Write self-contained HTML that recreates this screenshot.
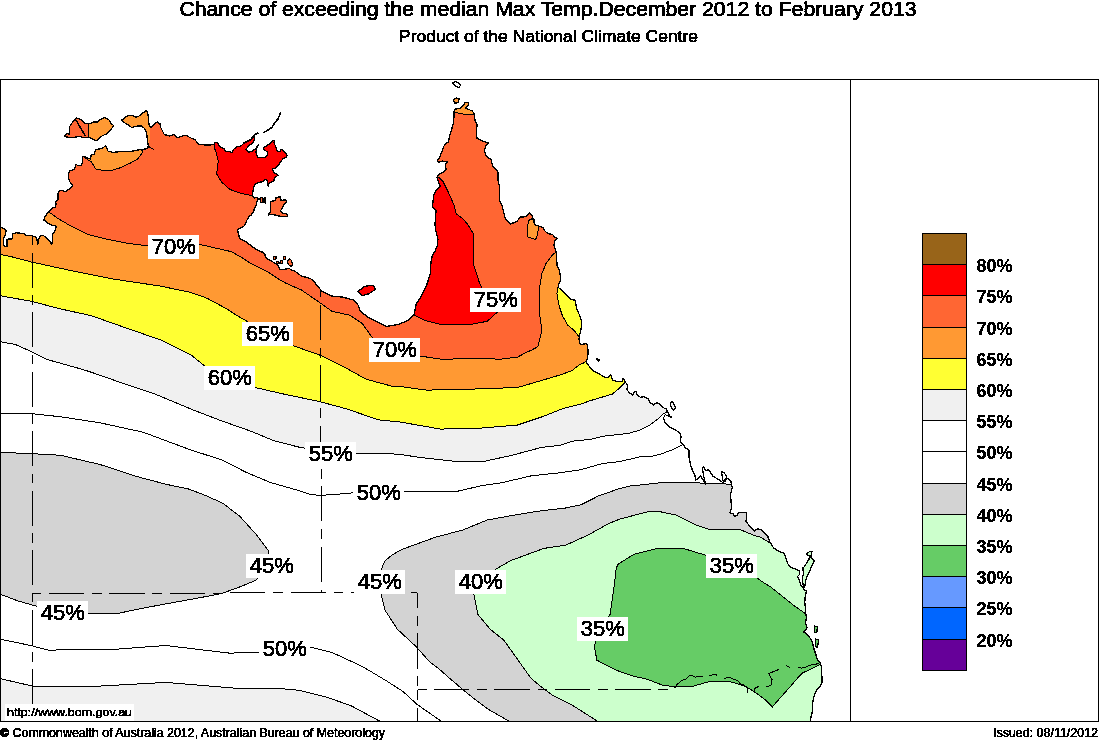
<!DOCTYPE html>
<html><head><meta charset="utf-8"><title>Chance of exceeding the median Max Temp</title>
<style>
html,body{margin:0;padding:0;background:#fff;}
body{width:1099px;height:740px;overflow:hidden;position:relative;font-family:"Liberation Sans",Arial,Helvetica,sans-serif;}
svg{position:absolute;left:0;top:0;}
svg text{font-family:"Liberation Sans",Arial,Helvetica,sans-serif;}
</style></head><body>
<svg width="1099" height="740" viewBox="0 0 1099 740" shape-rendering="crispEdges">
<defs><clipPath id="land">
<polygon points="0.0,227.0 3.5,228.4 6.1,231.0 5.3,234.5 3.5,238.9 3.5,244.2 4.4,246.8 7.0,246.8 7.0,239.8 8.8,238.9 12.3,238.9 12.7,233.6 16.7,232.8 23.7,233.6 25.5,235.4 31.6,235.8 35.1,236.7 36.9,238.9 37.8,244.2 38.6,239.8 40.4,235.8 43.0,235.4 45.7,237.1 49.2,240.7 51.8,244.2 52.7,238.9 52.7,233.6 54.4,231.9 56.2,226.6 55.3,225.7 52.7,225.3 49.2,224.0 45.7,221.3 43.9,220.5 44.8,217.0 46.5,214.3 49.2,211.7 51.8,208.2 55.3,207.3 56.2,203.8 55.3,202.0 57.9,199.4 57.9,195.0 58.4,191.5 60.8,190.3 65.7,191.5 69.3,189.0 73.0,186.0 70.5,183.0 68.7,179.3 68.5,173.1 69.5,171.2 74.2,169.3 76.1,164.6 78.0,165.5 80.8,165.5 82.7,161.8 82.7,157.0 84.6,156.6 87.4,158.0 90.3,158.9 91.2,155.1 94.1,154.2 96.0,149.5 99.7,149.0 103.5,147.6 105.4,145.7 106.8,148.5 108.2,151.4 113.0,152.3 118.7,151.8 124.3,151.4 129.1,151.8 135.7,150.4 140.4,149.5 142.3,150.4 143.3,149.5 147.0,148.5 148.3,146.0 147.5,140.0 146.5,133.0 144.5,128.5 141.4,125.8 135.7,126.3 131.9,127.7 128.1,124.9 123.4,122.0 121.5,120.1 124.3,118.2 128.1,115.4 132.8,115.4 135.7,117.3 138.5,116.4 143.3,112.6 146.6,110.2 148.0,114.5 148.9,123.9 150.8,127.7 154.6,123.9 157.4,122.0 160.0,123.9 160.9,127.8 164.2,134.4 169.1,136.0 174.0,134.4 177.3,137.7 185.5,135.2 190.4,137.7 195.3,140.1 198.6,144.2 205.2,145.0 210.0,145.1 214.1,144.3 214.9,142.7 217.4,142.7 220.6,147.6 223.9,148.4 225.6,151.7 229.7,151.7 232.1,152.9 233.8,149.2 237.0,146.8 241.1,146.0 244.4,142.7 249.3,140.2 252.6,137.8 254.2,136.1 254.5,138.5 253.4,142.7 249.3,145.1 246.0,149.2 248.5,152.5 252.6,150.9 255.9,148.4 258.3,145.1 256.7,147.6 255.9,152.5 257.5,157.4 260.8,157.4 265.7,157.4 267.3,155.0 267.3,151.7 264.1,150.0 263.2,148.4 267.3,145.1 271.4,142.7 272.2,141.0 274.7,140.2 273.9,142.7 275.5,146.0 277.2,150.9 279.6,151.7 281.3,149.2 284.5,151.7 287.0,155.0 286.2,157.4 283.7,158.2 281.3,160.7 279.6,163.1 278.8,165.0 275.4,168.1 272.2,168.9 273.8,172.2 277.9,175.4 274.6,177.8 273.8,181.1 268.9,183.5 268.1,186.0 267.3,180.3 265.7,179.5 261.6,181.9 257.6,182.7 254.3,185.1 253.5,188.4 252.7,192.4 252.3,195.7 254.3,198.1 257.6,197.3 258.4,198.9 256.8,202.2 256.0,205.4 254.3,208.7 253.5,211.9 251.1,215.1 248.7,216.8 247.0,220.0 244.6,225.7 237.5,229.8 238.5,233.8 239.5,238.2 246.6,242.3 254.7,248.4 260.0,251.5 263.3,252.3 264.9,254.2 265.5,257.5 268.2,259.4 272.0,261.3 275.3,263.5 278.0,265.1 279.1,267.3 279.7,269.5 283.5,269.5 286.7,268.9 289.5,268.7 291.7,270.0 294.9,271.1 298.2,273.8 301.5,276.0 305.3,277.1 309.1,278.2 312.4,279.6 316.6,284.9 321.7,291.0 331.8,296.0 341.9,297.0 354.1,300.1 358.1,305.2 360.2,311.2 368.3,317.3 378.4,322.4 386.5,326.4 398.7,324.4 408.1,320.3 414.2,314.2 416.2,304.1 420.3,298.0 426.4,285.8 430.4,273.7 430.7,265.0 431.3,260.1 432.5,255.2 435.5,250.3 437.3,245.5 437.9,239.4 436.1,232.1 434.9,224.8 435.5,218.7 436.1,210.2 432.5,206.6 433.7,195.7 435.5,190.8 440.4,186.5 438.6,182.3 437.0,177.0 438.5,174.6 443.9,171.9 446.0,169.2 445.3,163.8 447.3,161.8 442.6,161.1 438.5,162.4 437.2,161.1 439.9,157.0 441.9,151.6 443.9,146.2 445.9,143.5 448.6,142.2 449.3,136.8 451.4,130.0 453.4,123.2 454.1,115.1 454.1,111.1 455.4,109.1 460.1,108.4 462.8,105.7 465.5,102.3 468.2,103.0 468.2,105.7 465.5,108.4 468.2,109.1 472.3,111.1 474.3,113.8 475.0,120.5 477.0,124.6 476.4,134.1 477.0,138.1 481.8,140.8 488.5,142.8 485.8,146.2 484.5,150.3 485.8,155.7 491.2,159.7 492.6,166.5 495.3,169.2 498.0,171.9 498.0,180.0 499.4,186.4 499.4,200.6 502.4,206.7 505.4,218.8 510.5,223.9 515.0,222.3 517.2,221.2 520.4,216.6 522.0,217.2 525.8,216.6 528.5,214.2 529.6,213.1 532.3,215.8 532.8,218.5 534.5,219.6 533.9,222.3 535.5,225.0 538.8,226.1 543.1,227.7 545.3,231.5 548.5,233.6 552.8,234.7 554.5,237.4 557.7,238.5 555.0,240.7 553.9,245.0 556.1,251.4 557.1,265.6 559.1,270.0 560.1,274.3 560.7,280.3 558.5,285.1 558.0,287.3 562.3,290.5 566.6,294.9 571.0,299.2 575.3,300.3 576.4,307.8 579.6,315.4 581.8,321.9 581.2,328.4 579.6,334.9 579.0,339.2 579.6,343.5 581.8,344.6 586.1,343.5 587.7,345.7 588.1,354.1 587.0,359.5 586.5,362.7 589.7,367.0 594.1,371.4 599.5,374.1 605.9,377.8 609.2,376.8 610.8,374.6 612.4,380.0 616.8,381.6 622.2,381.6 623.2,378.4 625.4,382.2 627.6,385.4 627.0,389.7 629.7,393.0 633.0,395.1 634.1,391.9 636.2,391.4 637.3,395.1 640.5,397.3 643.8,396.8 648.1,398.9 650.3,402.7 653.5,404.9 656.8,402.7 660.0,404.3 663.2,407.6 666.5,409.2 668.1,412.4 669.7,415.7 671.4,417.3 667.6,415.8 665.2,414.6 663.4,418.2 665.2,423.1 669.5,426.8 674.3,429.2 679.8,432.8 681.0,436.5 680.4,441.4 683.5,445.0 685.3,448.1 688.9,449.9 688.9,457.2 690.8,465.7 692.6,470.6 695.0,475.4 695.6,480.3 698.7,477.9 700.5,476.0 703.5,480.3 705.4,483.9 703.5,475.4 702.3,468.1 703.5,466.9 706.0,470.6 708.4,469.3 713.3,476.6 718.1,479.1 723.0,482.7 726.0,478.5 729.1,479.1 730.9,481.5 731.5,485.2 732.3,487.3 730.5,494.6 731.1,501.9 731.7,508.0 729.9,512.8 733.5,514.1 734.7,516.5 737.2,515.3 738.4,512.2 743.2,512.8 746.3,512.8 746.9,518.9 745.7,520.8 748.7,525.0 751.8,528.7 754.2,531.1 757.8,528.7 761.5,529.9 765.1,533.5 767.6,536.0 770.0,542.0 773.7,548.1 778.5,551.1 784.6,553.5 785.8,558.4 788.2,564.5 790.7,566.9 794.3,568.7 799.2,570.5 799.8,574.2 797.4,576.6 799.2,580.3 801.0,585.1 802.8,587.6 804.1,590.0 806.5,591.2 805.3,596.1 804.7,602.2 805.3,607.0 805.9,614.3 806.5,618.0 805.3,622.9 807.1,627.7 805.3,630.2 803.8,632.0 808.2,635.3 812.0,641.0 813.9,648.7 815.8,654.4 817.3,659.6 820.4,662.7 821.2,666.6 821.2,670.5 822.0,676.7 822.0,682.8 819.7,686.7 816.6,689.8 815.0,693.7 813.5,698.3 812.7,703.0 812.7,709.1 812.3,712.0 811.0,717.0 810.1,721.0 810.1,722.0 0.0,722.0"/>
<polygon points="64.7,136.2 67.1,133.4 69.5,134.3 69.5,126.8 72.3,122.5 76.1,117.8 81.8,120.1 84.6,123.0 89.3,123.9 93.1,122.0 97.8,122.0 100.7,119.2 104.5,117.3 109.2,120.1 111.1,123.9 113.5,125.3 111.1,129.6 107.3,133.4 101.6,136.2 96.0,141.0 91.2,138.1 87.4,137.2 82.7,137.6 78.9,136.2 75.1,137.2 70.4,137.2 67.6,137.2"/>
<polygon points="270.6,201.4 275.4,200.6 276.2,197.3 280.3,196.9 281.1,200.6 285.2,199.7 286.8,201.4 283.5,205.4 281.9,208.7 280.3,211.1 282.7,213.5 286.8,213.5 287.6,216.8 281.9,216.8 275.4,215.1 270.6,214.3 268.1,215.1 268.9,213.5 270.6,211.9"/>
<polygon points="358.0,291.5 364.5,286.4 373.2,285.1 375.4,289.4 368.9,293.7 362.4,295.8"/>
<polygon points="453.6,99.5 456.5,97.8 459.4,99.0 458.0,102.5 454.5,103.4"/>
<polygon points="806.5,554.1 810.1,551.1 812.0,551.7 810.8,557.2 814.4,560.8 811.4,566.9 808.9,573.0 806.5,577.8 805.3,582.7 804.7,587.6 803.5,587.6 802.2,579.1 803.5,573.0 802.8,568.1 804.7,566.3 806.5,563.2 808.9,559.6 809.5,556.0"/>
<polygon points="814.4,626.0 817.4,626.5 816.8,632.6 814.8,632.0"/>
<polygon points="815.8,639.0 818.7,640.0 817.5,647.7 815.5,646.0"/>
<polygon points="260.0,198.0 262.5,197.5 263.0,202.5 260.5,202.8"/>
<polygon points="721.5,471.5 724.0,472.5 727.0,477.0 725.0,482.0 723.0,481.0"/>
<polygon points="670.3,402.2 673.0,402.0 675.7,408.0 673.5,410.3 671.0,407.0"/>
<polygon points="596.5,358.6 599.3,359.5 598.5,361.1"/>
<polygon points="273.5,256.6 276.2,256.4 275.8,259.5 273.3,259.8"/>
<polygon points="276.6,261.6 278.8,261.5 279.0,263.8 276.8,264.0"/>
<polygon points="280.3,260.5 282.7,260.2 282.5,263.3 280.4,263.5"/>
<polygon points="283.2,256.6 285.5,256.4 285.3,259.5 283.4,259.7"/>
<polygon points="289.5,258.6 291.5,260.5 292.6,264.5 291.6,266.6 289.0,265.0 287.0,262.0"/>
<polygon points="264.0,198.0 265.7,198.0 265.5,203.0 264.2,202.5"/>
</clipPath>
<filter id="bin" x="-5%" y="-30%" width="110%" height="160%"><feComponentTransfer><feFuncA type="discrete" tableValues="0 1 1"/></feComponentTransfer></filter>
</defs>
<rect x="0" y="0" width="1099" height="740" fill="#fff"/>
<g clip-path="url(#land)">
<rect x="0" y="79" width="850" height="643" fill="#fff"/>
<polygon points="0.0,341.6 15.3,344.5 32.5,352.1 47.8,359.7 82.2,369.3 91.2,372.2 131.8,386.4 156.1,394.5 192.6,409.7 219.2,420.0 251.4,431.4 274.1,440.8 300.0,447.4 305.4,448.2 330.0,451.0 356.1,453.3 382.5,453.3 400.0,454.4 420.3,457.5 456.8,461.5 485.2,461.1 511.5,455.4 541.9,447.3 560.0,445.4 572.3,441.2 590.4,439.4 602.8,436.2 628.9,433.3 640.0,430.0 650.0,424.9 657.3,419.5 662.2,414.6 668.0,411.2 700.0,400.0 700.0,60.0 0.0,60.0" fill="#f0f0f0"/>
<polygon points="0.0,295.7 32.5,301.5 57.3,308.2 91.7,315.8 124.2,327.3 162.4,340.6 191.1,355.0 204.8,366.0 230.0,378.0 254.7,387.4 281.1,393.5 319.6,401.6 346.0,408.7 378.4,419.8 400.0,422.0 440.6,429.1 481.1,428.1 517.6,425.0 541.9,416.9 562.2,408.8 580.0,404.3 590.8,400.5 601.6,397.3 612.4,394.1 618.9,388.6 625.5,382.0 640.0,370.0 640.0,60.0 0.0,60.0" fill="#ffff33"/>
<polygon points="0.0,254.4 10.5,256.5 31.8,262.1 68.2,270.0 113.7,279.1 159.2,285.9 190.0,292.2 196.8,294.5 206.9,298.2 217.0,303.6 227.2,309.1 237.3,315.8 246.8,321.2 270.0,334.0 293.3,345.7 321.7,355.8 329.8,360.0 346.0,368.1 366.3,379.3 392.6,386.4 400.0,386.5 426.4,390.1 460.8,389.5 517.6,387.5 541.9,380.4 562.2,374.3 572.2,370.4 580.0,364.3 584.3,362.7 587.0,360.0 600.0,350.0 600.0,60.0 0.0,60.0" fill="#ff9933"/>
<polygon points="49.2,212.2 58.0,218.5 68.7,224.8 87.8,234.4 106.9,239.2 126.0,243.0 147.0,245.9 198.7,244.2 231.1,251.6 241.0,257.0 250.0,263.0 260.0,268.1 265.5,270.6 270.9,273.8 276.4,277.7 285.2,282.9 301.4,290.0 317.6,301.1 331.8,311.2 350.0,315.3 362.2,323.4 372.3,337.6 395.0,352.0 420.3,356.1 440.6,359.1 481.1,358.8 501.4,359.1 517.6,357.1 525.7,352.7 531.8,350.0 537.9,346.7 539.9,338.5 541.9,330.4 539.9,316.2 539.9,285.8 541.9,273.7 546.0,263.5 552.1,255.4 556.0,252.0 570.0,240.0 570.0,60.0 49.2,60.0" fill="#ff6633"/>
<polygon points="214.1,144.3 214.9,149.2 216.6,154.1 218.2,160.7 217.8,165.0 216.6,173.7 221.5,181.9 229.7,189.3 238.1,192.4 244.6,194.1 252.3,195.7 262.0,193.0 300.0,190.0 300.0,90.0 214.1,90.0" fill="#ff0000"/>
<polygon points="437.3,176.2 442.8,181.1 447.7,190.8 453.7,204.2 456.2,213.9 462.2,218.1 467.1,223.6 473.2,233.3 473.5,250.0 474.0,265.6 479.1,281.8 482.1,287.9 490.0,300.0 497.3,312.2 487.2,321.3 471.0,324.4 440.6,324.4 424.3,320.3 414.2,315.2 405.0,318.0 405.0,175.0" fill="#ff0000"/>
<polygon points="358.0,291.5 364.5,286.4 373.2,285.1 375.4,289.4 368.9,293.7 362.4,295.8" fill="#ff0000"/>
<polygon points="88.4,105.0 88.4,145.0 125.0,145.0 125.0,105.0" fill="#ff9933"/>
<polygon points="83.0,150.0 83.2,156.6 86.5,158.9 91.2,161.8 96.0,169.3 102.6,170.3 112.0,170.3 121.5,167.4 131.0,162.7 137.6,158.9 141.4,154.2 143.3,149.5 148.9,147.6 149.5,140.0 150.2,128.0 149.5,124.0 148.5,114.0 148.0,100.0 115.0,100.0 115.0,140.0 88.0,143.0" fill="#ff9933"/>
<polygon points="448.0,90.0 482.0,90.0 482.0,114.5 473.0,114.5 465.5,114.5 454.7,112.4 448.0,112.0" fill="#ff9933"/>
<polygon points="528.5,220.7 531.2,218.8 533.4,220.1 533.6,222.8 535.5,225.0 538.2,226.1 538.5,228.2 537.7,233.1 536.6,238.0 535.0,239.3 531.2,238.0 528.0,236.9 527.4,229.3 528.2,222.8" fill="#ff9933"/>
<polygon points="558.0,287.3 556.9,293.8 559.1,305.7 562.3,315.4 567.7,325.1 574.2,330.5 579.5,337.5 600.0,337.5 600.0,285.0" fill="#ffff33"/>
<polygon points="0.0,678.6 33.1,686.2 89.2,686.7 165.6,682.4 237.0,688.3 280.0,688.5 298.9,690.3 327.3,697.4 351.0,705.7 379.4,721.0 381.0,722.0 0.0,722.0" fill="#f0f0f0"/>
<polygon points="0.0,452.3 32.4,453.7 60.8,455.3 100.0,464.5 137.8,476.8 166.2,484.3 188.9,489.1 206.0,495.7 223.0,503.3 240.0,516.5 257.0,535.4 268.4,550.6 270.0,565.0 257.7,578.2 255.2,580.6 237.2,588.0 220.8,593.7 194.6,598.7 171.7,602.8 145.5,607.7 117.7,613.4 88.2,613.4 62.0,612.0 36.5,606.2 17.6,600.8 0.0,594.1" fill="#d3d3d3"/>
<polygon points="733.0,485.2 725.4,483.9 706.0,483.9 693.8,482.1 661.0,482.7 650.0,483.9 630.2,486.0 620.0,488.4 598.4,496.0 580.9,504.8 565.6,508.0 537.2,511.3 511.0,515.7 487.0,520.1 463.0,529.9 434.6,537.5 401.8,549.5 392.0,555.0 385.0,561.0 382.2,567.0 380.5,580.0 380.9,593.7 385.0,610.1 397.3,629.2 416.4,646.9 430.0,662.2 439.7,669.5 449.5,678.2 462.1,688.9 472.8,697.7 488.4,709.3 507.8,720.5 510.0,722.0 900.0,722.0 900.0,485.0" fill="#d3d3d3"/>
<polygon points="771.0,543.5 766.4,540.8 760.3,537.2 754.2,535.4 749.3,533.5 740.8,529.9 725.0,529.9 710.5,530.0 694.4,524.3 676.1,515.1 660.0,511.7 650.2,511.2 620.0,519.0 609.3,523.3 587.5,535.3 565.6,545.2 543.8,548.4 511.0,560.5 495.7,569.2 485.0,582.0 473.7,593.7 477.8,614.2 490.1,629.2 503.8,640.1 517.4,659.2 531.0,678.3 540.0,685.8 553.2,695.7 573.0,705.6 596.1,720.4 598.0,722.0 900.0,722.0 900.0,543.5" fill="#ccffcc"/>
<polygon points="806.5,614.3 794.3,605.8 782.2,596.1 770.0,586.4 763.6,582.6 756.4,577.5 730.0,566.0 705.9,555.3 682.3,548.1 658.2,548.1 634.2,554.1 618.2,564.1 616.2,568.1 614.2,586.1 610.2,614.1 600.0,630.0 594.2,646.2 596.9,660.2 615.9,670.1 632.4,675.9 647.2,679.2 662.1,685.0 665.0,685.2 670.1,686.3 675.9,686.3 692.7,686.3 697.8,684.8 702.8,683.4 708.7,681.9 715.9,681.2 724.7,681.2 730.5,681.9 736.3,683.4 740.7,684.8 746.2,686.7 752.4,690.6 759.3,695.2 767.1,701.4 772.5,706.8 777.1,701.4 783.3,694.4 789.5,687.5 794.1,682.1 798.8,676.7 802.6,672.8 808.1,670.5 814.2,667.4 820.4,664.3 822.0,664.0 880.0,665.0 880.0,614.3" fill="#66cc66"/>
</g>
<g clip-path="url(#land)" fill="none" stroke="#000" stroke-width="1">
<polyline points="49.2,212.2 58.0,218.5 68.7,224.8 87.8,234.4 106.9,239.2 126.0,243.0 147.0,245.9 198.7,244.2 231.1,251.6 241.0,257.0 250.0,263.0 260.0,268.1 265.5,270.6 270.9,273.8 276.4,277.7 285.2,282.9 301.4,290.0 317.6,301.1 331.8,311.2 350.0,315.3 362.2,323.4 372.3,337.6 395.0,352.0 420.3,356.1 440.6,359.1 481.1,358.8 501.4,359.1 517.6,357.1 525.7,352.7 531.8,350.0 537.9,346.7 539.9,338.5 541.9,330.4 539.9,316.2 539.9,285.8 541.9,273.7 546.0,263.5 552.1,255.4 556.0,252.0"/>
<polyline points="0.0,254.4 10.5,256.5 31.8,262.1 68.2,270.0 113.7,279.1 159.2,285.9 190.0,292.2 196.8,294.5 206.9,298.2 217.0,303.6 227.2,309.1 237.3,315.8 246.8,321.2 270.0,334.0 293.3,345.7 321.7,355.8 329.8,360.0 346.0,368.1 366.3,379.3 392.6,386.4 400.0,386.5 426.4,390.1 460.8,389.5 517.6,387.5 541.9,380.4 562.2,374.3 572.2,370.4 580.0,364.3 584.3,362.7 587.0,360.0"/>
<polyline points="0.0,295.7 32.5,301.5 57.3,308.2 91.7,315.8 124.2,327.3 162.4,340.6 191.1,355.0 204.8,366.0 230.0,378.0 254.7,387.4 281.1,393.5 319.6,401.6 346.0,408.7 378.4,419.8 400.0,422.0 440.6,429.1 481.1,428.1 517.6,425.0 541.9,416.9 562.2,408.8 580.0,404.3 590.8,400.5 601.6,397.3 612.4,394.1 618.9,388.6 625.5,382.0"/>
<polyline points="0.0,341.6 15.3,344.5 32.5,352.1 47.8,359.7 82.2,369.3 91.2,372.2 131.8,386.4 156.1,394.5 192.6,409.7 219.2,420.0 251.4,431.4 274.1,440.8 300.0,447.4 305.4,448.2 330.0,451.0 356.1,453.3 382.5,453.3 400.0,454.4 420.3,457.5 456.8,461.5 485.2,461.1 511.5,455.4 541.9,447.3 560.0,445.4 572.3,441.2 590.4,439.4 602.8,436.2 628.9,433.3 640.0,430.0 650.0,424.9 657.3,419.5 662.2,414.6 668.0,411.2"/>
<polyline points="0.0,413.1 32.4,413.7 60.8,416.8 100.0,422.8 143.5,432.3 188.9,449.3 221.1,459.7 247.6,473.0 270.3,482.4 300.0,491.0 311.5,494.8 320.3,495.2 331.8,494.8 353.1,492.8 380.0,492.0 402.8,491.8 424.3,491.9 454.7,491.9 481.1,485.8 501.4,482.8 531.8,475.7 560.0,472.8 580.3,469.8 602.8,463.5 620.0,461.5 641.1,456.6 650.0,456.6 660.9,454.1 671.9,449.9 683.0,444.5"/>
<polyline points="0.0,639.1 30.6,645.5 48.4,650.1 114.7,649.3 165.6,645.5 229.3,653.1 257.3,652.6 283.0,650.0 308.4,646.6 332.1,652.5 362.8,666.7 386.5,680.9 403.0,691.5 417.2,704.5 440.9,721.0 442.0,722.0"/>
<polyline points="0.0,678.6 33.1,686.2 89.2,686.7 165.6,682.4 237.0,688.3 280.0,688.5 298.9,690.3 327.3,697.4 351.0,705.7 379.4,721.0 381.0,722.0"/>
<polyline points="733.0,485.2 725.4,483.9 706.0,483.9 693.8,482.1 661.0,482.7 650.0,483.9 630.2,486.0 620.0,488.4 598.4,496.0 580.9,504.8 565.6,508.0 537.2,511.3 511.0,515.7 487.0,520.1 463.0,529.9 434.6,537.5 401.8,549.5 392.0,555.0 385.0,561.0 382.2,567.0 380.5,580.0 380.9,593.7 385.0,610.1 397.3,629.2 416.4,646.9 430.0,662.2 439.7,669.5 449.5,678.2 462.1,688.9 472.8,697.7 488.4,709.3 507.8,720.5 510.0,722.0"/>
<polyline points="771.0,543.5 766.4,540.8 760.3,537.2 754.2,535.4 749.3,533.5 740.8,529.9 725.0,529.9 710.5,530.0 694.4,524.3 676.1,515.1 660.0,511.7 650.2,511.2 620.0,519.0 609.3,523.3 587.5,535.3 565.6,545.2 543.8,548.4 511.0,560.5 495.7,569.2 485.0,582.0 473.7,593.7 477.8,614.2 490.1,629.2 503.8,640.1 517.4,659.2 531.0,678.3 540.0,685.8 553.2,695.7 573.0,705.6 596.1,720.4 598.0,722.0"/>
<polyline points="806.5,614.3 794.3,605.8 782.2,596.1 770.0,586.4 763.6,582.6 756.4,577.5 730.0,566.0 705.9,555.3 682.3,548.1 658.2,548.1 634.2,554.1 618.2,564.1 616.2,568.1 614.2,586.1 610.2,614.1 600.0,630.0 594.2,646.2 596.9,660.2 615.9,670.1 632.4,675.9 647.2,679.2 662.1,685.0 665.0,685.2 670.1,686.3 675.9,686.3 692.7,686.3 697.8,684.8 702.8,683.4 708.7,681.9 715.9,681.2 724.7,681.2 730.5,681.9 736.3,683.4 740.7,684.8 746.2,686.7 752.4,690.6 759.3,695.2 767.1,701.4 772.5,706.8 777.1,701.4 783.3,694.4 789.5,687.5 794.1,682.1 798.8,676.7 802.6,672.8 808.1,670.5 814.2,667.4 820.4,664.3 822.0,664.0"/>
<polyline points="214.1,144.3 214.9,149.2 216.6,154.1 218.2,160.7 217.8,165.0 216.6,173.7 221.5,181.9 229.7,189.3 238.1,192.4 244.6,194.1 252.3,195.7"/>
<polyline points="437.3,176.2 442.8,181.1 447.7,190.8 453.7,204.2 456.2,213.9 462.2,218.1 467.1,223.6 473.2,233.3 473.5,250.0 474.0,265.6 479.1,281.8 482.1,287.9 490.0,300.0 497.3,312.2 487.2,321.3 471.0,324.4 440.6,324.4 424.3,320.3 414.2,315.2"/>
<polygon points="0.0,452.3 32.4,453.7 60.8,455.3 100.0,464.5 137.8,476.8 166.2,484.3 188.9,489.1 206.0,495.7 223.0,503.3 240.0,516.5 257.0,535.4 268.4,550.6 270.0,565.0 257.7,578.2 255.2,580.6 237.2,588.0 220.8,593.7 194.6,598.7 171.7,602.8 145.5,607.7 117.7,613.4 88.2,613.4 62.0,612.0 36.5,606.2 17.6,600.8 0.0,594.1"/>
<polyline points="88.4,118.0 88.4,140.0"/>
<polyline points="83.2,156.6 86.5,158.9 91.2,161.8 96.0,169.3 102.6,170.3 112.0,170.3 121.5,167.4 131.0,162.7 137.6,158.9 141.4,154.2 143.3,149.5 148.9,147.6"/>
<polyline points="148.9,146.6 153.7,149.5"/>
<polyline points="454.7,112.4 465.5,114.5 473.5,114.5"/>
<polygon points="528.5,220.7 531.2,218.8 533.4,220.1 533.6,222.8 535.5,225.0 538.2,226.1 538.5,228.2 537.7,233.1 536.6,238.0 535.0,239.3 531.2,238.0 528.0,236.9 527.4,229.3 528.2,222.8"/>
<polyline points="558.0,287.3 556.9,293.8 559.1,305.7 562.3,315.4 567.7,325.1 574.2,330.5 579.5,337.5"/>
</g>
<g fill="none" stroke="#000" stroke-width="1.3" stroke-linejoin="round">
<polyline points="0.0,227.0 3.5,228.4 6.1,231.0 5.3,234.5 3.5,238.9 3.5,244.2 4.4,246.8 7.0,246.8 7.0,239.8 8.8,238.9 12.3,238.9 12.7,233.6 16.7,232.8 23.7,233.6 25.5,235.4 31.6,235.8 35.1,236.7 36.9,238.9 37.8,244.2 38.6,239.8 40.4,235.8 43.0,235.4 45.7,237.1 49.2,240.7 51.8,244.2 52.7,238.9 52.7,233.6 54.4,231.9 56.2,226.6 55.3,225.7 52.7,225.3 49.2,224.0 45.7,221.3 43.9,220.5 44.8,217.0 46.5,214.3 49.2,211.7 51.8,208.2 55.3,207.3 56.2,203.8 55.3,202.0 57.9,199.4 57.9,195.0 58.4,191.5 60.8,190.3 65.7,191.5 69.3,189.0 73.0,186.0 70.5,183.0 68.7,179.3 68.5,173.1 69.5,171.2 74.2,169.3 76.1,164.6 78.0,165.5 80.8,165.5 82.7,161.8 82.7,157.0 84.6,156.6 87.4,158.0 90.3,158.9 91.2,155.1 94.1,154.2 96.0,149.5 99.7,149.0 103.5,147.6 105.4,145.7 106.8,148.5 108.2,151.4 113.0,152.3 118.7,151.8 124.3,151.4 129.1,151.8 135.7,150.4 140.4,149.5 142.3,150.4 143.3,149.5 147.0,148.5 148.3,146.0 147.5,140.0 146.5,133.0 144.5,128.5 141.4,125.8 135.7,126.3 131.9,127.7 128.1,124.9 123.4,122.0 121.5,120.1 124.3,118.2 128.1,115.4 132.8,115.4 135.7,117.3 138.5,116.4 143.3,112.6 146.6,110.2 148.0,114.5 148.9,123.9 150.8,127.7 154.6,123.9 157.4,122.0 160.0,123.9 160.9,127.8 164.2,134.4 169.1,136.0 174.0,134.4 177.3,137.7 185.5,135.2 190.4,137.7 195.3,140.1 198.6,144.2 205.2,145.0 210.0,145.1 214.1,144.3 214.9,142.7 217.4,142.7 220.6,147.6 223.9,148.4 225.6,151.7 229.7,151.7 232.1,152.9 233.8,149.2 237.0,146.8 241.1,146.0 244.4,142.7 249.3,140.2 252.6,137.8 254.2,136.1 254.5,138.5 253.4,142.7 249.3,145.1 246.0,149.2 248.5,152.5 252.6,150.9 255.9,148.4 258.3,145.1 256.7,147.6 255.9,152.5 257.5,157.4 260.8,157.4 265.7,157.4 267.3,155.0 267.3,151.7 264.1,150.0 263.2,148.4 267.3,145.1 271.4,142.7 272.2,141.0 274.7,140.2 273.9,142.7 275.5,146.0 277.2,150.9 279.6,151.7 281.3,149.2 284.5,151.7 287.0,155.0 286.2,157.4 283.7,158.2 281.3,160.7 279.6,163.1 278.8,165.0 275.4,168.1 272.2,168.9 273.8,172.2 277.9,175.4 274.6,177.8 273.8,181.1 268.9,183.5 268.1,186.0 267.3,180.3 265.7,179.5 261.6,181.9 257.6,182.7 254.3,185.1 253.5,188.4 252.7,192.4 252.3,195.7 254.3,198.1 257.6,197.3 258.4,198.9 256.8,202.2 256.0,205.4 254.3,208.7 253.5,211.9 251.1,215.1 248.7,216.8 247.0,220.0 244.6,225.7 237.5,229.8 238.5,233.8 239.5,238.2 246.6,242.3 254.7,248.4 260.0,251.5 263.3,252.3 264.9,254.2 265.5,257.5 268.2,259.4 272.0,261.3 275.3,263.5 278.0,265.1 279.1,267.3 279.7,269.5 283.5,269.5 286.7,268.9 289.5,268.7 291.7,270.0 294.9,271.1 298.2,273.8 301.5,276.0 305.3,277.1 309.1,278.2 312.4,279.6 316.6,284.9 321.7,291.0 331.8,296.0 341.9,297.0 354.1,300.1 358.1,305.2 360.2,311.2 368.3,317.3 378.4,322.4 386.5,326.4 398.7,324.4 408.1,320.3 414.2,314.2 416.2,304.1 420.3,298.0 426.4,285.8 430.4,273.7 430.7,265.0 431.3,260.1 432.5,255.2 435.5,250.3 437.3,245.5 437.9,239.4 436.1,232.1 434.9,224.8 435.5,218.7 436.1,210.2 432.5,206.6 433.7,195.7 435.5,190.8 440.4,186.5 438.6,182.3 437.0,177.0 438.5,174.6 443.9,171.9 446.0,169.2 445.3,163.8 447.3,161.8 442.6,161.1 438.5,162.4 437.2,161.1 439.9,157.0 441.9,151.6 443.9,146.2 445.9,143.5 448.6,142.2 449.3,136.8 451.4,130.0 453.4,123.2 454.1,115.1 454.1,111.1 455.4,109.1 460.1,108.4 462.8,105.7 465.5,102.3 468.2,103.0 468.2,105.7 465.5,108.4 468.2,109.1 472.3,111.1 474.3,113.8 475.0,120.5 477.0,124.6 476.4,134.1 477.0,138.1 481.8,140.8 488.5,142.8 485.8,146.2 484.5,150.3 485.8,155.7 491.2,159.7 492.6,166.5 495.3,169.2 498.0,171.9 498.0,180.0 499.4,186.4 499.4,200.6 502.4,206.7 505.4,218.8 510.5,223.9 515.0,222.3 517.2,221.2 520.4,216.6 522.0,217.2 525.8,216.6 528.5,214.2 529.6,213.1 532.3,215.8 532.8,218.5 534.5,219.6 533.9,222.3 535.5,225.0 538.8,226.1 543.1,227.7 545.3,231.5 548.5,233.6 552.8,234.7 554.5,237.4 557.7,238.5 555.0,240.7 553.9,245.0 556.1,251.4 557.1,265.6 559.1,270.0 560.1,274.3 560.7,280.3 558.5,285.1 558.0,287.3 562.3,290.5 566.6,294.9 571.0,299.2 575.3,300.3 576.4,307.8 579.6,315.4 581.8,321.9 581.2,328.4 579.6,334.9 579.0,339.2 579.6,343.5 581.8,344.6 586.1,343.5 587.7,345.7 588.1,354.1 587.0,359.5 586.5,362.7 589.7,367.0 594.1,371.4 599.5,374.1 605.9,377.8 609.2,376.8 610.8,374.6 612.4,380.0 616.8,381.6 622.2,381.6 623.2,378.4 625.4,382.2 627.6,385.4 627.0,389.7 629.7,393.0 633.0,395.1 634.1,391.9 636.2,391.4 637.3,395.1 640.5,397.3 643.8,396.8 648.1,398.9 650.3,402.7 653.5,404.9 656.8,402.7 660.0,404.3 663.2,407.6 666.5,409.2 668.1,412.4 669.7,415.7 671.4,417.3 667.6,415.8 665.2,414.6 663.4,418.2 665.2,423.1 669.5,426.8 674.3,429.2 679.8,432.8 681.0,436.5 680.4,441.4 683.5,445.0 685.3,448.1 688.9,449.9 688.9,457.2 690.8,465.7 692.6,470.6 695.0,475.4 695.6,480.3 698.7,477.9 700.5,476.0 703.5,480.3 705.4,483.9 703.5,475.4 702.3,468.1 703.5,466.9 706.0,470.6 708.4,469.3 713.3,476.6 718.1,479.1 723.0,482.7 726.0,478.5 729.1,479.1 730.9,481.5 731.5,485.2 732.3,487.3 730.5,494.6 731.1,501.9 731.7,508.0 729.9,512.8 733.5,514.1 734.7,516.5 737.2,515.3 738.4,512.2 743.2,512.8 746.3,512.8 746.9,518.9 745.7,520.8 748.7,525.0 751.8,528.7 754.2,531.1 757.8,528.7 761.5,529.9 765.1,533.5 767.6,536.0 770.0,542.0 773.7,548.1 778.5,551.1 784.6,553.5 785.8,558.4 788.2,564.5 790.7,566.9 794.3,568.7 799.2,570.5 799.8,574.2 797.4,576.6 799.2,580.3 801.0,585.1 802.8,587.6 804.1,590.0 806.5,591.2 805.3,596.1 804.7,602.2 805.3,607.0 805.9,614.3 806.5,618.0 805.3,622.9 807.1,627.7 805.3,630.2 803.8,632.0 808.2,635.3 812.0,641.0 813.9,648.7 815.8,654.4 817.3,659.6 820.4,662.7 821.2,666.6 821.2,670.5 822.0,676.7 822.0,682.8 819.7,686.7 816.6,689.8 815.0,693.7 813.5,698.3 812.7,703.0 812.7,709.1 812.3,712.0 811.0,717.0 810.1,721.0"/>
<polygon points="64.7,136.2 67.1,133.4 69.5,134.3 69.5,126.8 72.3,122.5 76.1,117.8 81.8,120.1 84.6,123.0 89.3,123.9 93.1,122.0 97.8,122.0 100.7,119.2 104.5,117.3 109.2,120.1 111.1,123.9 113.5,125.3 111.1,129.6 107.3,133.4 101.6,136.2 96.0,141.0 91.2,138.1 87.4,137.2 82.7,137.6 78.9,136.2 75.1,137.2 70.4,137.2 67.6,137.2"/>
<polygon points="270.6,201.4 275.4,200.6 276.2,197.3 280.3,196.9 281.1,200.6 285.2,199.7 286.8,201.4 283.5,205.4 281.9,208.7 280.3,211.1 282.7,213.5 286.8,213.5 287.6,216.8 281.9,216.8 275.4,215.1 270.6,214.3 268.1,215.1 268.9,213.5 270.6,211.9"/>
<polygon points="358.0,291.5 364.5,286.4 373.2,285.1 375.4,289.4 368.9,293.7 362.4,295.8"/>
<polygon points="453.6,99.5 456.5,97.8 459.4,99.0 458.0,102.5 454.5,103.4"/>
<polygon points="806.5,554.1 810.1,551.1 812.0,551.7 810.8,557.2 814.4,560.8 811.4,566.9 808.9,573.0 806.5,577.8 805.3,582.7 804.7,587.6 803.5,587.6 802.2,579.1 803.5,573.0 802.8,568.1 804.7,566.3 806.5,563.2 808.9,559.6 809.5,556.0"/>
<polygon points="814.4,626.0 817.4,626.5 816.8,632.6 814.8,632.0"/>
<polygon points="815.8,639.0 818.7,640.0 817.5,647.7 815.5,646.0"/>
<polygon points="260.0,198.0 262.5,197.5 263.0,202.5 260.5,202.8"/>
<polygon points="721.5,471.5 724.0,472.5 727.0,477.0 725.0,482.0 723.0,481.0"/>
<polygon points="670.3,402.2 673.0,402.0 675.7,408.0 673.5,410.3 671.0,407.0"/>
<polygon points="596.5,358.6 599.3,359.5 598.5,361.1"/>
<polygon points="273.5,256.6 276.2,256.4 275.8,259.5 273.3,259.8"/>
<polygon points="276.6,261.6 278.8,261.5 279.0,263.8 276.8,264.0"/>
<polygon points="280.3,260.5 282.7,260.2 282.5,263.3 280.4,263.5"/>
<polygon points="283.2,256.6 285.5,256.4 285.3,259.5 283.4,259.7"/>
<polygon points="289.5,258.6 291.5,260.5 292.6,264.5 291.6,266.6 289.0,265.0 287.0,262.0"/>
<polygon points="264.0,198.0 265.7,198.0 265.5,203.0 264.2,202.5"/>
<polyline points="242.8,143.5 251.0,139.4 253.4,136.1 256.7,133.3 258.3,132.8" stroke-width="1.6"/>
<polyline points="263.2,132.8 267.3,130.4 272.2,127.1 274.7,123.0 278.0,118.9 280.4,113.2 280.8,112.4" stroke-width="1.6"/>
<polygon points="452.7,83.0 455.0,81.4 458.0,82.5 460.8,85.0 459.0,87.4 455.5,86.5"/>
<polyline points="76.1,120.1 80.0,127.0 85.5,136.2" stroke-width="1.5"/>
</g>
<g fill="none" stroke="#000" stroke-width="1" stroke-dasharray="35.3,7.8,9.8,7.5">
<polyline points="32.5,235.7 32.5,722.0" stroke-dasharray="35,7.5,9.6,7.4" stroke-dashoffset="42.5"/>
<polyline points="320.5,289.0 320.6,440.0 321.4,470.0 321.5,592.5" stroke-dashoffset="44.4"/>
<polyline points="32.5,593.5 417.5,592.5" stroke-dashoffset="43.9"/>
<polyline points="417.5,592.5 417.5,689.5" stroke-dashoffset="19.6"/>
<polyline points="417.5,689.5 417.5,722.0" stroke-dashoffset="42.3"/>
<polyline points="417.5,689.5 674.4,689.5" stroke-dashoffset="43.9"/>
</g>
<polyline points="674.5,688.5 676.6,684.8 681.7,680.5 686.1,679.0 689.7,675.4 691.9,675.4 695.6,677.2 698.5,676.5 702.8,676.5" fill="none" stroke="#000" stroke-width="1"/>
<polyline points="709.4,675.7 715.2,674.3 717.4,675.4" fill="none" stroke="#000" stroke-width="1"/>
<polyline points="724.0,678.3 729.8,677.6 733.4,679.0 737.8,680.5 740.0,683.6 743.9,685.2 747.0,687.5 747.7,690.6 748.1,693.3" fill="none" stroke="#000" stroke-width="1"/>
<polyline points="753.9,692.1 754.7,689.0 756.2,687.5 759.3,686.3" fill="none" stroke="#000" stroke-width="1"/>
<polyline points="765.5,687.1 767.8,686.3 770.9,685.5 771.7,682.1 772.1,679.7 770.5,677.4 769.4,675.1 769.0,673.6 772.5,672.0 776.3,670.5 779.4,669.3" fill="none" stroke="#000" stroke-width="1"/>
<polyline points="785.6,665.4 788.0,666.2 789.5,667.4 790.3,667.0" fill="none" stroke="#000" stroke-width="1"/>
<polyline points="798.0,667.4 801.9,668.1 805.7,667.4 808.1,665.8 811.9,664.7 815.8,664.3 819.7,662.7" fill="none" stroke="#000" stroke-width="1"/>
<rect x="148.0" y="235.0" width="51" height="24" fill="#fff"/>
<text filter="url(#bin)" x="151.8" y="253.7" font-size="22.8" textLength="44" lengthAdjust="spacingAndGlyphs" stroke="#000" stroke-width="0.4" fill="#000">70%</text>
<rect x="242.0" y="322.0" width="51" height="24" fill="#fff"/>
<text filter="url(#bin)" x="245.8" y="340.7" font-size="22.8" textLength="44" lengthAdjust="spacingAndGlyphs" stroke="#000" stroke-width="0.4" fill="#000">65%</text>
<rect x="369.0" y="338.0" width="51" height="24" fill="#fff"/>
<text filter="url(#bin)" x="372.8" y="356.7" font-size="22.8" textLength="44" lengthAdjust="spacingAndGlyphs" stroke="#000" stroke-width="0.4" fill="#000">70%</text>
<rect x="470.0" y="288.0" width="51" height="24" fill="#fff"/>
<text filter="url(#bin)" x="473.8" y="306.7" font-size="22.8" textLength="44" lengthAdjust="spacingAndGlyphs" stroke="#000" stroke-width="0.4" fill="#000">75%</text>
<rect x="204.0" y="366.0" width="51" height="24" fill="#fff"/>
<text filter="url(#bin)" x="207.8" y="384.7" font-size="22.8" textLength="44" lengthAdjust="spacingAndGlyphs" stroke="#000" stroke-width="0.4" fill="#000">60%</text>
<rect x="305.0" y="442.0" width="51" height="24" fill="#fff"/>
<text filter="url(#bin)" x="308.8" y="460.7" font-size="22.8" textLength="44" lengthAdjust="spacingAndGlyphs" stroke="#000" stroke-width="0.4" fill="#000">55%</text>
<rect x="353.0" y="481.0" width="51" height="24" fill="#fff"/>
<text filter="url(#bin)" x="356.8" y="499.7" font-size="22.8" textLength="44" lengthAdjust="spacingAndGlyphs" stroke="#000" stroke-width="0.4" fill="#000">50%</text>
<rect x="246.0" y="554.0" width="51" height="24" fill="#fff"/>
<text filter="url(#bin)" x="249.8" y="572.7" font-size="22.8" textLength="44" lengthAdjust="spacingAndGlyphs" stroke="#000" stroke-width="0.4" fill="#000">45%</text>
<rect x="37.0" y="601.0" width="51" height="24" fill="#fff"/>
<text filter="url(#bin)" x="40.8" y="619.7" font-size="22.8" textLength="44" lengthAdjust="spacingAndGlyphs" stroke="#000" stroke-width="0.4" fill="#000">45%</text>
<rect x="354.0" y="570.0" width="51" height="24" fill="#fff"/>
<text filter="url(#bin)" x="357.8" y="588.7" font-size="22.8" textLength="44" lengthAdjust="spacingAndGlyphs" stroke="#000" stroke-width="0.4" fill="#000">45%</text>
<rect x="455.0" y="570.0" width="51" height="24" fill="#fff"/>
<text filter="url(#bin)" x="458.8" y="588.7" font-size="22.8" textLength="44" lengthAdjust="spacingAndGlyphs" stroke="#000" stroke-width="0.4" fill="#000">40%</text>
<rect x="706.0" y="554.0" width="51" height="24" fill="#fff"/>
<text filter="url(#bin)" x="709.8" y="572.7" font-size="22.8" textLength="44" lengthAdjust="spacingAndGlyphs" stroke="#000" stroke-width="0.4" fill="#000">35%</text>
<rect x="577.0" y="617.0" width="51" height="24" fill="#fff"/>
<text filter="url(#bin)" x="580.8" y="635.7" font-size="22.8" textLength="44" lengthAdjust="spacingAndGlyphs" stroke="#000" stroke-width="0.4" fill="#000">35%</text>
<rect x="259.0" y="637.0" width="51" height="24" fill="#fff"/>
<text filter="url(#bin)" x="262.8" y="655.7" font-size="22.8" textLength="44" lengthAdjust="spacingAndGlyphs" stroke="#000" stroke-width="0.4" fill="#000">50%</text>
<rect x="5" y="704" width="129" height="17" fill="#fff"/>
<text filter="url(#bin)" x="7" y="715.6" font-size="11.8" stroke="#000" stroke-width="0.35" textLength="125" lengthAdjust="spacingAndGlyphs" fill="#000">http://www.bom.gov.au</text>
<g fill="none" stroke="#000" stroke-width="1">
<rect x="0.5" y="79.5" width="1098" height="642"/>
<line x1="850.5" y1="79.5" x2="850.5" y2="721.5"/>
</g>
<rect x="922.5" y="233.5" width="44" height="31.2" fill="#986419" stroke="#000" stroke-width="1"/>
<rect x="922.5" y="264.7" width="44" height="31.2" fill="#ff0000" stroke="#000" stroke-width="1"/>
<rect x="922.5" y="295.9" width="44" height="31.2" fill="#ff6633" stroke="#000" stroke-width="1"/>
<rect x="922.5" y="327.1" width="44" height="31.2" fill="#ff9933" stroke="#000" stroke-width="1"/>
<rect x="922.5" y="358.3" width="44" height="31.2" fill="#ffff33" stroke="#000" stroke-width="1"/>
<rect x="922.5" y="389.5" width="44" height="31.2" fill="#f0f0f0" stroke="#000" stroke-width="1"/>
<rect x="922.5" y="420.7" width="44" height="31.2" fill="#fff" stroke="#000" stroke-width="1"/>
<rect x="922.5" y="451.9" width="44" height="31.2" fill="#fff" stroke="#000" stroke-width="1"/>
<rect x="922.5" y="483.1" width="44" height="31.2" fill="#d3d3d3" stroke="#000" stroke-width="1"/>
<rect x="922.5" y="514.3" width="44" height="31.2" fill="#ccffcc" stroke="#000" stroke-width="1"/>
<rect x="922.5" y="545.5" width="44" height="31.2" fill="#66cc66" stroke="#000" stroke-width="1"/>
<rect x="922.5" y="576.7" width="44" height="31.2" fill="#6699ff" stroke="#000" stroke-width="1"/>
<rect x="922.5" y="607.9" width="44" height="31.2" fill="#0066ff" stroke="#000" stroke-width="1"/>
<rect x="922.5" y="639.1" width="44" height="31.2" fill="#660099" stroke="#000" stroke-width="1"/>
<text filter="url(#bin)" x="976.5" y="272.2" font-size="18" font-weight="bold" textLength="36" lengthAdjust="spacingAndGlyphs" fill="#000">80%</text>
<text filter="url(#bin)" x="976.5" y="303.4" font-size="18" font-weight="bold" textLength="36" lengthAdjust="spacingAndGlyphs" fill="#000">75%</text>
<text filter="url(#bin)" x="976.5" y="334.6" font-size="18" font-weight="bold" textLength="36" lengthAdjust="spacingAndGlyphs" fill="#000">70%</text>
<text filter="url(#bin)" x="976.5" y="365.8" font-size="18" font-weight="bold" textLength="36" lengthAdjust="spacingAndGlyphs" fill="#000">65%</text>
<text filter="url(#bin)" x="976.5" y="397.0" font-size="18" font-weight="bold" textLength="36" lengthAdjust="spacingAndGlyphs" fill="#000">60%</text>
<text filter="url(#bin)" x="976.5" y="428.2" font-size="18" font-weight="bold" textLength="36" lengthAdjust="spacingAndGlyphs" fill="#000">55%</text>
<text filter="url(#bin)" x="976.5" y="459.4" font-size="18" font-weight="bold" textLength="36" lengthAdjust="spacingAndGlyphs" fill="#000">50%</text>
<text filter="url(#bin)" x="976.5" y="490.6" font-size="18" font-weight="bold" textLength="36" lengthAdjust="spacingAndGlyphs" fill="#000">45%</text>
<text filter="url(#bin)" x="976.5" y="521.8" font-size="18" font-weight="bold" textLength="36" lengthAdjust="spacingAndGlyphs" fill="#000">40%</text>
<text filter="url(#bin)" x="976.5" y="553.0" font-size="18" font-weight="bold" textLength="36" lengthAdjust="spacingAndGlyphs" fill="#000">35%</text>
<text filter="url(#bin)" x="976.5" y="584.2" font-size="18" font-weight="bold" textLength="36" lengthAdjust="spacingAndGlyphs" fill="#000">30%</text>
<text filter="url(#bin)" x="976.5" y="615.4" font-size="18" font-weight="bold" textLength="36" lengthAdjust="spacingAndGlyphs" fill="#000">25%</text>
<text filter="url(#bin)" x="976.5" y="646.6" font-size="18" font-weight="bold" textLength="36" lengthAdjust="spacingAndGlyphs" fill="#000">20%</text>
<text filter="url(#bin)" x="179.5" y="15.6" font-size="21" textLength="737" lengthAdjust="spacingAndGlyphs" stroke="#000" stroke-width="0.45" fill="#000">Chance of exceeding the median Max Temp.December 2012 to February 2013</text>
<text filter="url(#bin)" x="399" y="42" font-size="16.3" stroke="#000" stroke-width="0.3" textLength="299" lengthAdjust="spacingAndGlyphs" fill="#000">Product of the National Climate Centre</text>
<text filter="url(#bin)" x="0" y="736.8" font-size="12.2" stroke="#000" stroke-width="0.3" textLength="385" lengthAdjust="spacingAndGlyphs" fill="#000"><tspan font-weight="bold" stroke-width="0.8">©</tspan> Commonwealth of Australia 2012, Australian Bureau of Meteorology</text>
<text filter="url(#bin)" x="993" y="736.8" font-size="12.2" stroke="#000" stroke-width="0.3" textLength="105" lengthAdjust="spacingAndGlyphs" fill="#000">Issued: 08/11/2012</text>
</svg>
</body></html>
